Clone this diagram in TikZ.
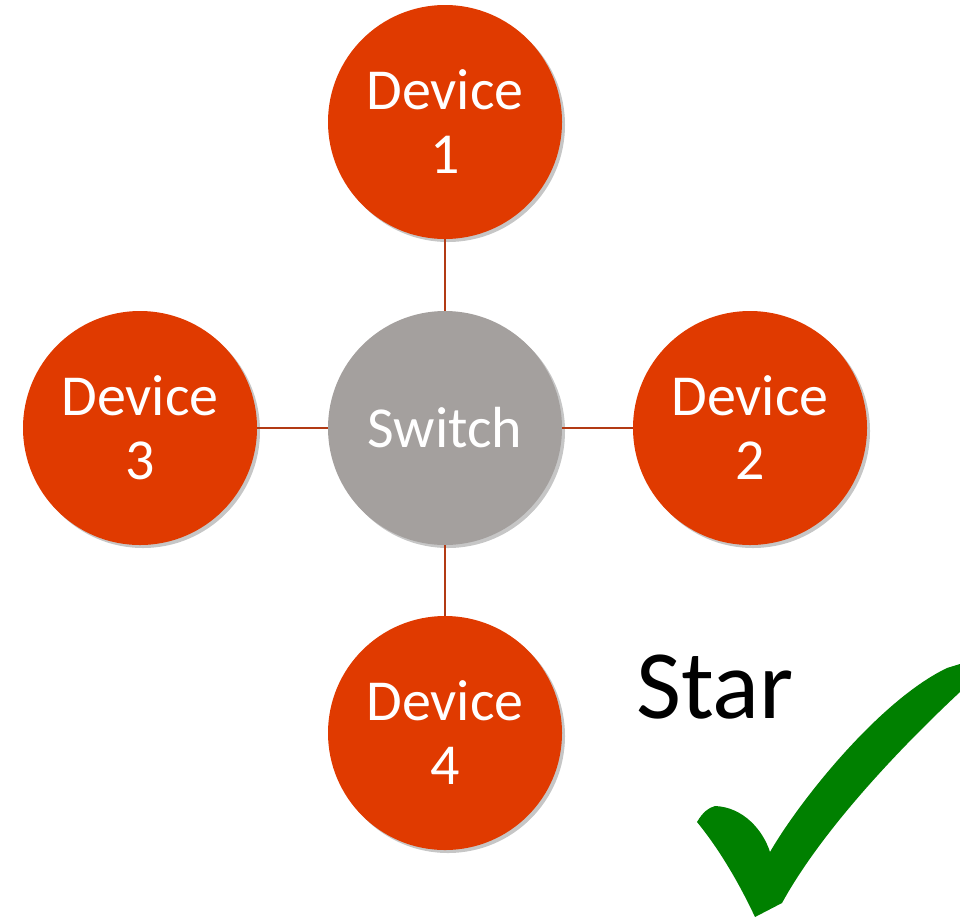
\documentclass[tikz,border=0pt]{standalone}
\usepackage{fontspec}
\setmainfont{Carlito}
\usetikzlibrary{shadows}
\definecolor{devred}{RGB}{224,58,0}
\definecolor{swgray}{RGB}{164,160,158}
\definecolor{linkred}{RGB}{178,58,20}
\definecolor{checkgreen}{RGB}{0,128,0}
\tikzset{
  devnode/.style={circle, fill=devred, minimum size=234pt, inner sep=0pt,
    text=white, align=center, font=\fontsize{58}{64}\selectfont,
    drop shadow={shadow xshift=3pt, shadow yshift=-3pt, opacity=0.45}},
  swnode/.style={devnode, fill=swgray},
  link/.style={draw=linkred, line width=2pt}
}
\begin{document}
\begin{tikzpicture}[x=1pt,y=-1pt]
\useasboundingbox (0,0) rectangle (960,919);
\node[swnode] (sw) at (445,428) {Switch};
\node[devnode] (d1) at (445,122) {Device\\1};
\node[devnode] (d2) at (750,428) {Device\\2};
\node[devnode] (d3) at (140,428) {Device\\3};
\node[devnode] (d4) at (445,733) {Device\\4};
\draw[link] (sw.north) -- (d1.south);
\draw[link] (sw.east) -- (d2.west);
\draw[link] (sw.west) -- (d3.east);
\draw[link] (sw.south) -- (d4.north);
\node[anchor=base west, inner sep=0pt, font=\fontsize{98}{100}\selectfont] (star) at (636,718) {Star};
\fill[checkgreen] (697,822) .. controls (703,812) and (708,808) .. (715,806)
  .. controls (743,807) and (763,830) .. (770,852)
  .. controls (800,800) and (880,700) .. (947,668)
  -- (960,664) -- (960,692)
  .. controls (900,748) and (822,830) .. (782,903)
  -- (755,917)
  .. controls (740,885) and (720,850) .. cycle;
\end{tikzpicture}
\end{document}
